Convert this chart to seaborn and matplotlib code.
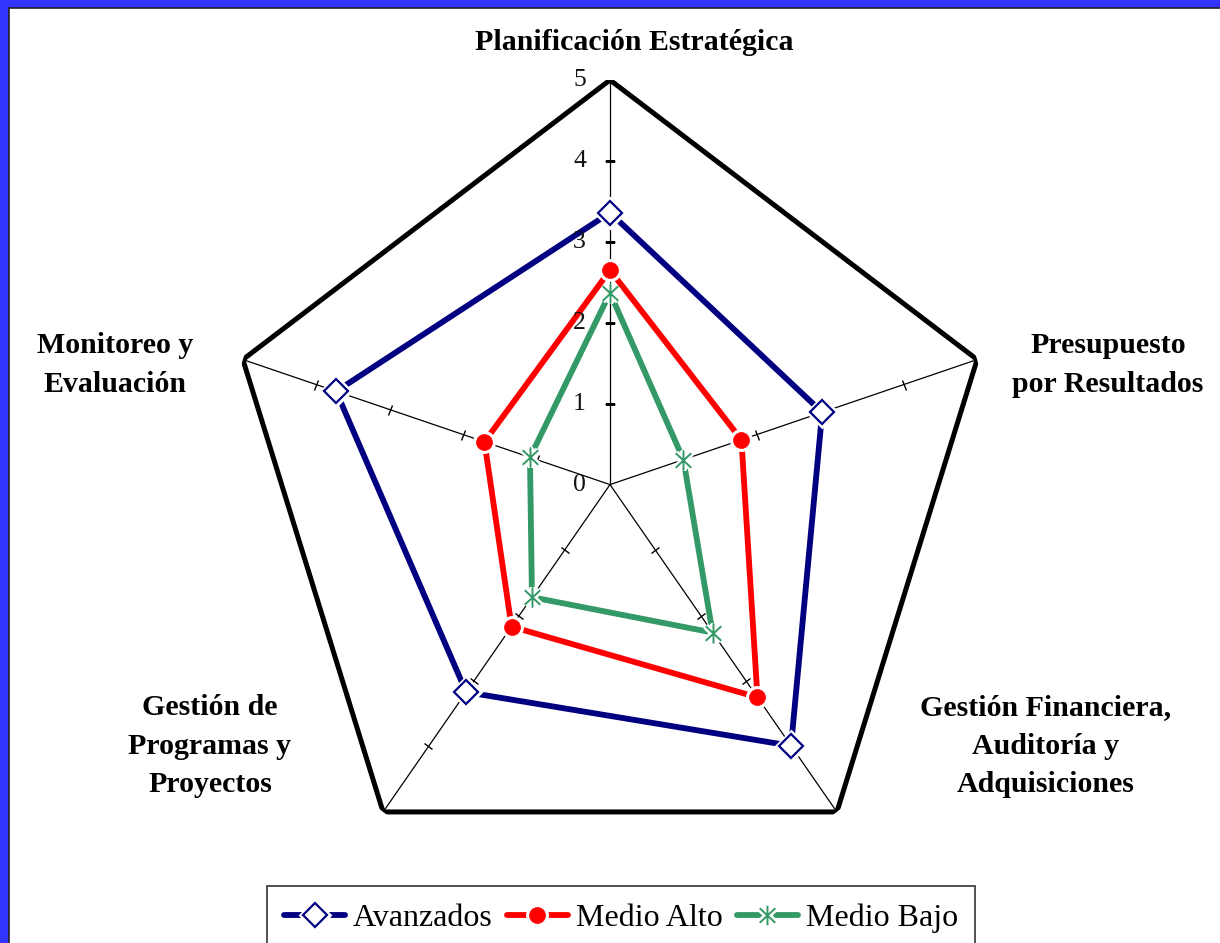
import numpy as np
import matplotlib
matplotlib.use("Agg")
import matplotlib.pyplot as plt
import seaborn as sns
from matplotlib.lines import Line2D
from matplotlib.patches import Rectangle
from matplotlib.markers import MarkerStyle
from matplotlib.path import Path
from matplotlib.transforms import Affine2D, ScaledTranslation
from matplotlib.legend_handler import HandlerTuple

# ---------------- data ----------------
categories = ["Planificación Estratégica", "Presupuesto por Resultados",
              "Gestión Financiera, Auditoría y Adquisiciones",
              "Gestión de Programas y Proyectos", "Monitoreo y Evaluación"]
category_labels = ["Planificación Estratégica", "Presupuesto\npor Resultados",
                   "Gestión Financiera,\nAuditoría y\nAdquisiciones",
                   "Gestión de\nProgramas y\nProyectos", "Monitoreo y\nEvaluación"]
series_names = ["Avanzados", "Medio Alto", "Medio Bajo"]
avanzados = [3.36, 2.89, 3.99, 3.17, 3.73]
medio_alto = [2.65, 1.79, 3.25, 2.17, 1.71]
medio_bajo = [2.37, 1.00, 2.26, 1.72, 1.09]
radial_ticks = [0, 1, 2, 3, 4, 5]
r_max = 5

# ---------------- style ----------------
sns.set_theme(style="white")
plt.rcParams["font.family"] = ["Liberation Serif", "DejaVu Serif"]
plt.rcParams["text.color"] = "black"

W, H = 1220, 943
fig = plt.figure(figsize=(W / 100, H / 100), dpi=100)
fig.patch.set_facecolor("#3333FF")
fig.patches.append(Rectangle((9 / W, 0), 1, 1 - 8 / H, transform=fig.transFigure,
                             facecolor="white", edgecolor="none", zorder=-10))
fig.lines.append(Line2D([8.5 / W, 8.5 / W], [0, 1 - 7.5 / H], transform=fig.transFigure,
                        color="#222222", lw=1.2))
fig.lines.append(Line2D([8.5 / W, 1], [1 - 7.5 / H, 1 - 7.5 / H], transform=fig.transFigure,
                        color="#222222", lw=1.2))

cx, cy = 610, 484.6
rx, ry = 386, 404.6
ax = fig.add_axes([(cx - rx) / W, 1 - (cy + ry) / H, 2 * rx / W, 2 * ry / H],
                  projection="polar")
ax.set_theta_offset(np.pi / 2)
ax.set_theta_direction(-1)
ax.set_aspect("auto")
ax.set_ylim(0, r_max)
ax.grid(False)
ax.set_xticks([])
ax.set_yticks([])
ax.spines["polar"].set_visible(False)
ax.patch.set_alpha(0)

n = len(categories)
theta = np.arange(n) * 2 * np.pi / n
theta_closed = np.append(theta, 2 * np.pi)

# spokes
for t in theta:
    ax.plot([t, t], [0, r_max], color="black", lw=0.9, zorder=1)
# tick marks on spokes
for i, t in enumerate(theta):
    phi = 90 - 72 * i
    ms = MarkerStyle("|", transform=Affine2D().rotate_deg(phi))
    ax.plot([t] * 4, radial_ticks[1:5], linestyle="none", marker=ms,
            markersize=7.5, markeredgewidth=1.0, color="black", zorder=1)
# outer pentagon
ax.plot(theta_closed, [r_max] * (n + 1), color="black", lw=3.6, zorder=2,
        solid_joinstyle="round")

# radial labels
off = ScaledTranslation(-0.24, 0, fig.dpi_scale_trans)
for v in radial_ticks:
    ax.text(0, v, str(v), transform=ax.transData + off, ha="right", va="center",
            fontsize=18.5, color="#111111", zorder=20)

# series
ast_path = Path([(0, -1), (0, 1), (-0.8, -0.75), (0.8, 0.75), (-0.8, 0.75), (0.8, -0.75)],
                [Path.MOVETO, Path.LINETO, Path.MOVETO, Path.LINETO, Path.MOVETO, Path.LINETO])
styles = [
    dict(color="#000080", marker="D", ms=12, mfc="white", mew=1.6),
    dict(color="#FF0000", marker="o", ms=11.5, mfc="#FF0000", mew=0.5),
    dict(color="#339966", marker=ast_path, ms=14, mfc="none", mew=1.4),
]
values = [avanzados, medio_alto, medio_bajo]
lw_series = 4.2
handles = []
for k, (name, vals, st) in enumerate(zip(series_names, values, styles)):
    vc = np.append(vals, vals[0])
    z = 3 + 3 * k
    sns.lineplot(x=theta_closed, y=vc, ax=ax, sort=False, estimator=None,
                 color=st["color"], linewidth=lw_series, zorder=z, legend=False)
    # white halo
    ax.plot(theta, vals, linestyle="none", marker=st["marker"], markersize=st["ms"],
            markerfacecolor="white", markeredgecolor="white", markeredgewidth=5,
            zorder=z + 1)
    ax.plot(theta, vals, linestyle="none", marker=st["marker"], markersize=st["ms"],
            markerfacecolor=st["mfc"], markeredgecolor=st["color"],
            markeredgewidth=st["mew"], zorder=z + 2)
    h_line = Line2D([], [], color=st["color"], lw=lw_series)
    h_halo = Line2D([], [], linestyle="none", marker=st["marker"], markersize=st["ms"],
                    markerfacecolor="white", markeredgecolor="white", markeredgewidth=5)
    h_mark = Line2D([], [], linestyle="none", marker=st["marker"], markersize=st["ms"],
                    markerfacecolor=st["mfc"], markeredgecolor=st["color"],
                    markeredgewidth=st["mew"])
    handles.append((h_line, h_halo, h_mark))

ax.set_xlabel("")
ax.set_ylabel("")

# category labels
label_pos = [(634, 43), (1108, 365), (1046, 746), (210, 746), (115, 365)]
for lab, (px, py) in zip(category_labels, label_pos):
    fig.text(px / W, 1 - py / H, lab, ha="center", va="center", fontsize=21.5,
             fontweight="bold", linespacing=1.55, color="black")

leg = fig.legend(handles, series_names, handler_map={tuple: HandlerTuple(ndivide=1)},
                 loc="upper center", bbox_to_anchor=(621 / W, 1 - 886 / H), ncol=3,
                 fontsize=23, frameon=True, fancybox=False, edgecolor="black",
                 handlelength=1.9, handletextpad=0.25, columnspacing=0.45,
                 borderpad=0.55, borderaxespad=0, labelcolor="black")
leg.get_frame().set_linewidth(1.2)

fig.savefig("out.png", dpi=100, facecolor=fig.get_facecolor())
